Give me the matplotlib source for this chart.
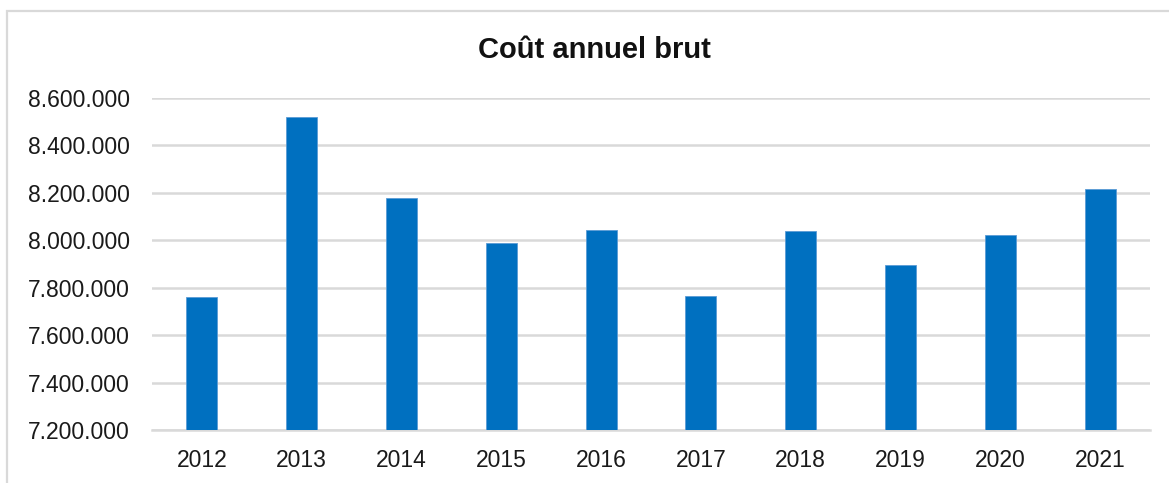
import matplotlib
matplotlib.use("Agg")
import matplotlib.pyplot as plt
from matplotlib.ticker import FuncFormatter, MultipleLocator
from matplotlib.patches import Rectangle

years = ["2012", "2013", "2014", "2015", "2016", "2017", "2018", "2019", "2020", "2021"]
costs = [7761000, 8520000, 8178000, 7989000, 8042000, 7766000, 8038000, 7896000, 8021000, 8216000]
title = "Coût annuel brut"

plt.rcParams['font.family'] = ['Liberation Sans', 'DejaVu Sans']

W, H = 1169, 483
fig = plt.figure(figsize=(W / 100, H / 100), dpi=100)
ax = fig.add_axes([152 / W, 1 - 430 / H, (1150 - 152) / W, (430 - 97.7) / H])

x = list(range(len(years)))
ax.bar(x, costs, width=0.31, color="#0070C0", edgecolor="#5B9BD5", linewidth=0.6, zorder=3)

ax.set_xlim(-0.5, len(years) - 0.5)
ax.set_ylim(7200000, 8600000)
ax.yaxis.set_major_locator(MultipleLocator(200000))
ax.yaxis.set_major_formatter(FuncFormatter(lambda v, p: f"{int(round(v)):,}".replace(",", ".")))
ax.set_xticks(x)
ax.set_xticklabels(years)

ax.grid(axis="y", color="#D9D9D9", linewidth=1.8, zorder=0)
ax.grid(axis="x", visible=False)
for s in ["top", "right", "left"]:
    ax.spines[s].set_visible(False)
ax.spines["bottom"].set_color("#D9D9D9")
ax.spines["bottom"].set_linewidth(1.8)
ax.tick_params(axis="both", length=0, labelsize=16.5, colors="#1a1a1a")
ax.tick_params(axis="y", pad=16)
ax.tick_params(axis="x", pad=14)

fig.text(594 / W, 1 - 50 / H, title, ha="center", va="center", fontsize=21, fontweight="bold", color="#111111")

fig.patches.append(Rectangle((7 / W, -0.1), 2.0, 1.1 - 11 / H, transform=fig.transFigure,
                             fill=False, edgecolor="#D9D9D9", linewidth=1.6))

fig.savefig("out.png", dpi=100)
